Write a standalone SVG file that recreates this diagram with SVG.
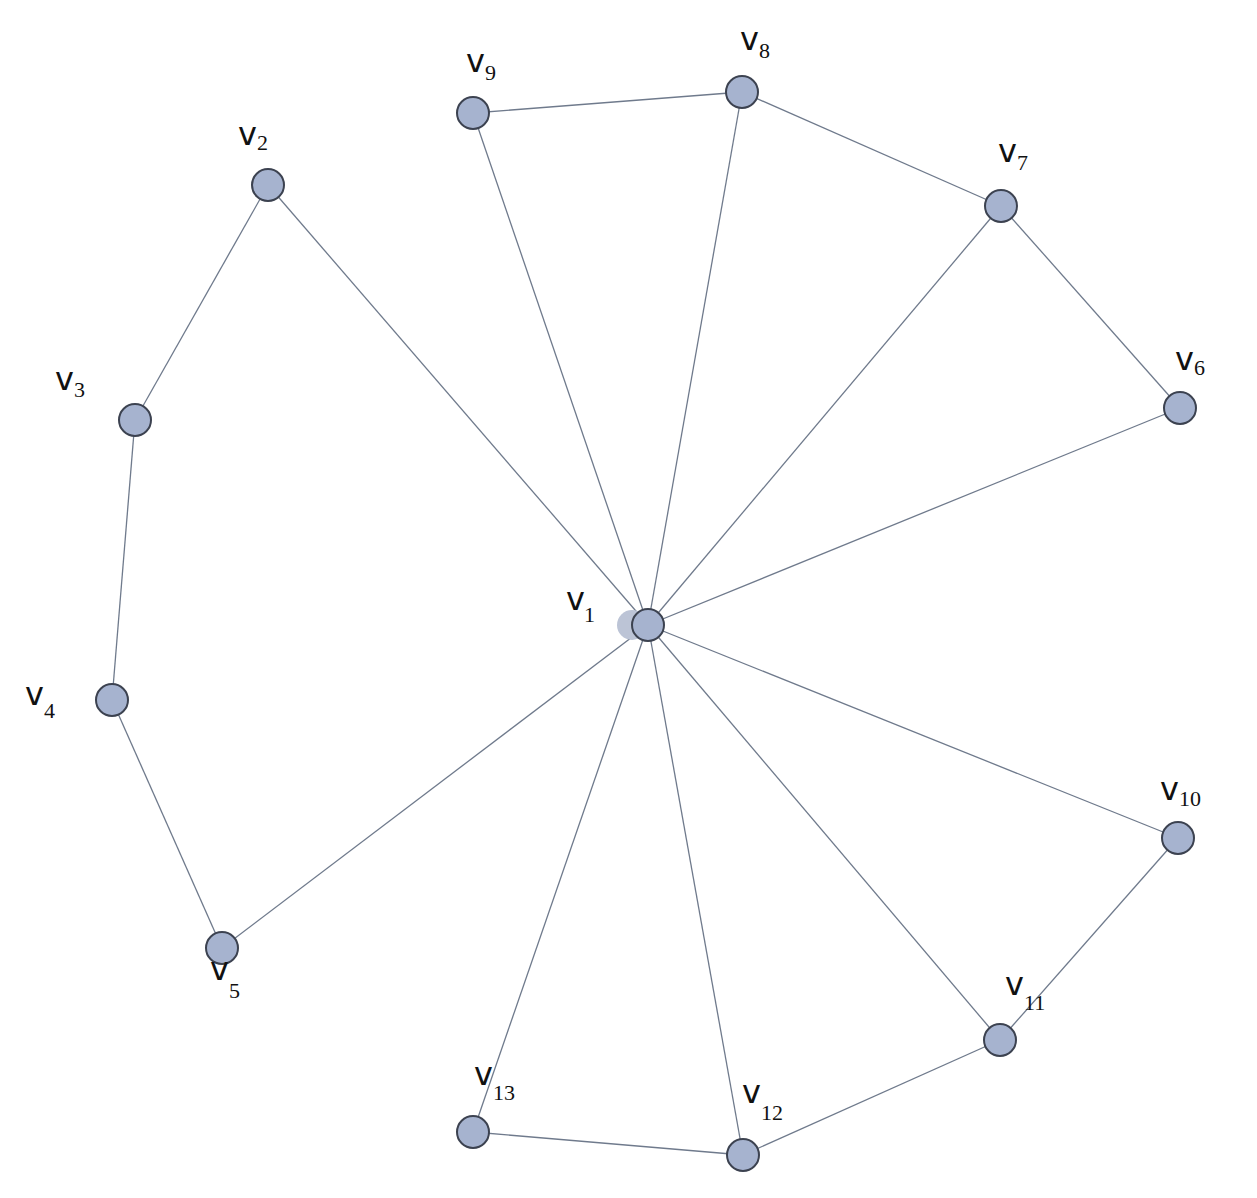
<svg xmlns="http://www.w3.org/2000/svg" width="1257" height="1198" viewBox="0 0 1257 1198">
<style>
.e{stroke:#6f7a8c;stroke-width:1.3;fill:none}
.n{fill:#a6b3cf;stroke:#3c4250;stroke-width:2}
.v{font-family:"DejaVu Sans",sans-serif;font-size:32px;fill:#111}
.s{font-family:"Liberation Serif",serif;font-size:22px;fill:#111}
</style>
<rect width="1257" height="1198" fill="#fff"/>
<g id="connectors">
<line class="e" x1="648" y1="625" x2="268" y2="185"/>
<line class="e" x1="648" y1="625" x2="473" y2="113"/>
<line class="e" x1="648" y1="625" x2="742" y2="92"/>
<line class="e" x1="648" y1="625" x2="1001" y2="206"/>
<line class="e" x1="648" y1="625" x2="1180" y2="408"/>
<line class="e" x1="648" y1="625" x2="222" y2="948"/>
<line class="e" x1="648" y1="625" x2="473" y2="1132"/>
<line class="e" x1="648" y1="625" x2="743" y2="1155"/>
<line class="e" x1="648" y1="625" x2="1000" y2="1040"/>
<line class="e" x1="648" y1="625" x2="1178" y2="838"/>
<line class="e" x1="268" y1="185" x2="135" y2="420"/>
<line class="e" x1="135" y1="420" x2="112" y2="700"/>
<line class="e" x1="112" y1="700" x2="222" y2="948"/>
<line class="e" x1="473" y1="113" x2="742" y2="92"/>
<line class="e" x1="742" y1="92" x2="1001" y2="206"/>
<line class="e" x1="1001" y1="206" x2="1180" y2="408"/>
<line class="e" x1="1178" y1="838" x2="1000" y2="1040"/>
<line class="e" x1="1000" y1="1040" x2="743" y2="1155"/>
<line class="e" x1="743" y1="1155" x2="473" y2="1132"/>
</g>
<g id="v1"><circle cx="632" cy="625" r="15" fill="#bcc4d6"/><circle class="n" cx="648" cy="625" r="16"/><text class="v" x="566" y="610">v</text><text class="s" x="584" y="622">1</text></g>
<g id="v2"><circle class="n" cx="268" cy="185" r="16"/><text class="v" x="238" y="145">v</text><text class="s" x="257" y="150">2</text></g>
<g id="v3"><circle class="n" cx="135" cy="420" r="16"/><text class="v" x="55" y="390">v</text><text class="s" x="74" y="397">3</text></g>
<g id="v4"><circle class="n" cx="112" cy="700" r="16"/><text class="v" x="25" y="705">v</text><text class="s" x="44" y="718">4</text></g>
<g id="v5"><circle class="n" cx="222" cy="948" r="16"/><text class="v" x="210" y="980">v</text><text class="s" x="229" y="998">5</text></g>
<g id="v6"><circle class="n" cx="1180" cy="408" r="16"/><text class="v" x="1175" y="370">v</text><text class="s" x="1194" y="375">6</text></g>
<g id="v7"><circle class="n" cx="1001" cy="206" r="16"/><text class="v" x="998" y="162">v</text><text class="s" x="1017" y="170">7</text></g>
<g id="v8"><circle class="n" cx="742" cy="92" r="16"/><text class="v" x="740" y="50">v</text><text class="s" x="759" y="58">8</text></g>
<g id="v9"><circle class="n" cx="473" cy="113" r="16"/><text class="v" x="466" y="72">v</text><text class="s" x="485" y="80">9</text></g>
<g id="v10"><circle class="n" cx="1178" cy="838" r="16"/><text class="v" x="1160" y="800">v</text><text class="s" x="1179" y="806">10</text></g>
<g id="v11"><circle class="n" cx="1000" cy="1040" r="16"/><text class="v" x="1005" y="995">v</text><text class="s" x="1024" y="1010">11</text></g>
<g id="v12"><circle class="n" cx="743" cy="1155" r="16"/><text class="v" x="742" y="1103">v</text><text class="s" x="761" y="1120">12</text></g>
<g id="v13"><circle class="n" cx="473" cy="1132" r="16"/><text class="v" x="474" y="1085">v</text><text class="s" x="493" y="1100">13</text></g>
</svg>
